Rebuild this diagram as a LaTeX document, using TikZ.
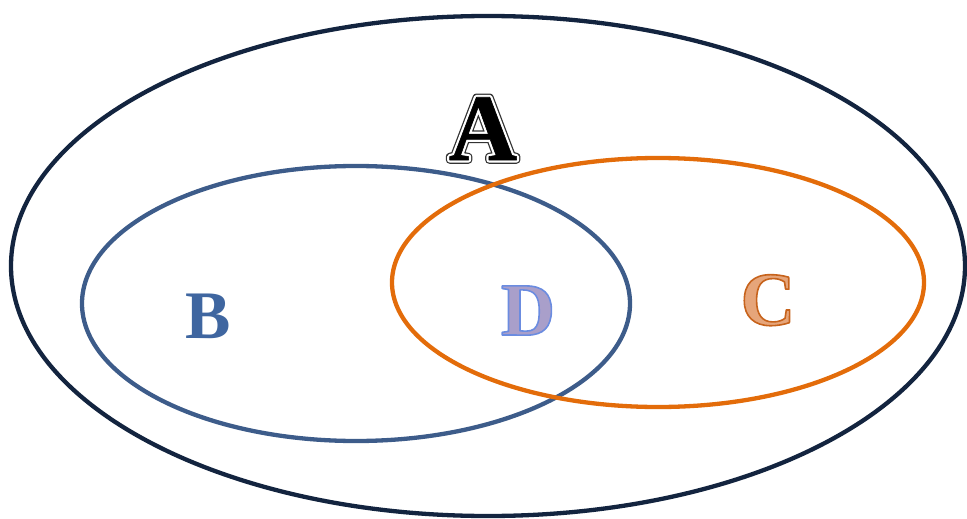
\documentclass[tikz,border=0pt]{standalone}
\usepackage{fontspec}
\setmainfont{Liberation Serif}
\definecolor{navy}{HTML}{13243F}
\definecolor{bblue}{HTML}{3D5C8A}
\definecolor{orng}{HTML}{E36C0A}
\definecolor{btext}{HTML}{3F66A0}
\definecolor{dfill}{HTML}{A99FCA}
\definecolor{cfill}{HTML}{E6A57A}
\newcommand{\outlined}[3]{\special{pdf:code 2 Tr #1 w 1 j #2 RG}#3\special{pdf:code 0 Tr}}
\tikzset{
  ring/.style={line width=4.3pt},
  letter/.style={anchor=base, inner sep=0pt},
  bigA/.style={letter, text=black, font=\fontsize{95}{95}\bfseries\selectfont}
}
\begin{document}
\begin{tikzpicture}[x=1pt,y=-1pt]
\useasboundingbox (0,0) rectangle (967,519);
\draw[ring, navy] (488,266) ellipse [x radius=477, y radius=250];
\draw[ring, bblue] (356,303.5) ellipse [x radius=274, y radius=137.5];
\draw[ring, orng] (658,282.5) ellipse [x radius=266, y radius=124.5];
% A
\node[bigA] (a1) at (483,160) {\outlined{7.5}{0.2 0.2 0.2}{A}};
\node[bigA] (a2) at (483,160) {\outlined{5}{1 1 1}{A}};
\node[bigA] (a3) at (483,160) {\outlined{0.6}{0 0 0}{A}};
% B
\node[letter, text=btext, font=\fontsize{68}{68}\bfseries\selectfont] (b) at (208,338) {B};
% D
\node[letter, text=dfill, font=\fontsize{75}{75}\bfseries\selectfont] (d) at (528,335) {\outlined{1.6}{0.42 0.55 0.88}{D}};
% C
\node[letter, text=cfill, font=\fontsize{76}{76}\bfseries\selectfont] (c) at (768,325) {\outlined{1.6}{0.78 0.39 0.11}{C}};
\end{tikzpicture}
\end{document}
